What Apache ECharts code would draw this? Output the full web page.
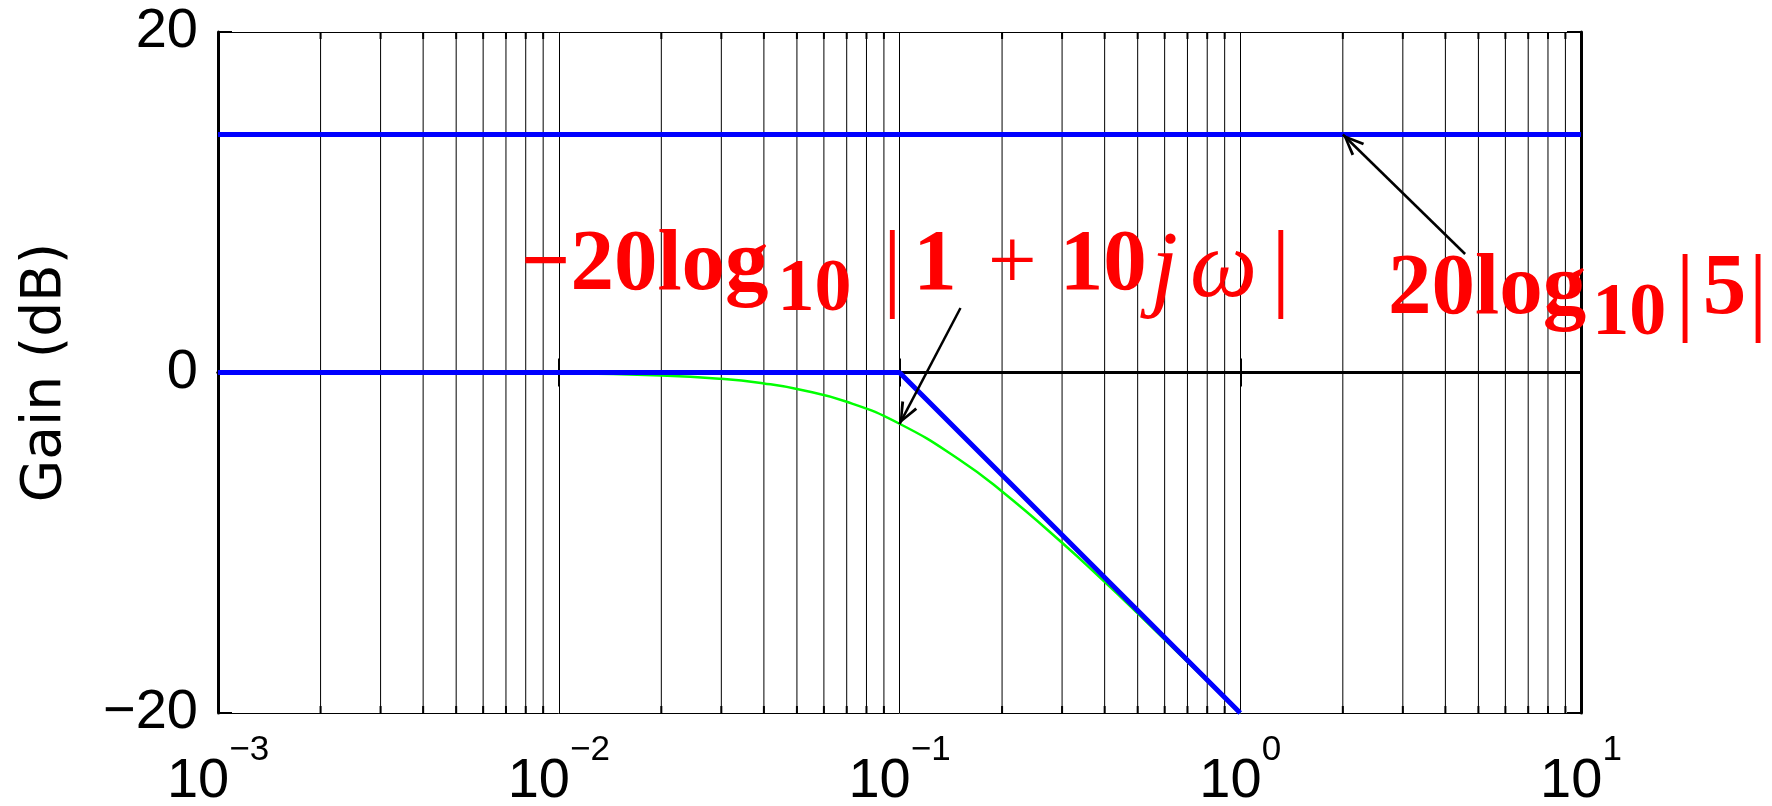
<!DOCTYPE html>
<html><head><meta charset="utf-8">
<script src="https://cdn.jsdelivr.net/npm/echarts@6/dist/echarts.min.js"></script>
<style>html,body{margin:0;padding:0;background:#fff}#c{width:1772px;height:806px}</style>
</head><body><div id="c"></div>
<script>
// ---- axes ----
const xMin = 0.001, xMax = 10;
const yMin = -20, yMax = 20, yStep = 20;
const decades = [0.001, 0.01, 0.1, 1];
const minorTicks = [];
decades.forEach(d => { for (let k = 2; k <= 9; k++) minorTicks.push(+(k * d).toPrecision(3)); });

// ---- series ----
const constW = [0.001, 10];
const constDb = [13.98, 13.98];            // 20log10|5|
const asymW = [0.001, 0.1, 1];
const asymDb = [0, 0, -20];                 // straight-line approximation
const exactW = [0.001, 0.003, 0.005, 0.01, 0.02, 0.03, 0.04, 0.05, 0.07, 0.1, 0.15, 0.2, 0.3, 0.4, 0.5, 0.7, 1];
const exactDb = [0, 0, -0.01, -0.04, -0.17, -0.37, -0.64, -0.97, -1.72, -3.01, -5.12, -6.99, -10.0, -12.3, -14.15, -17.0, -20.0];

// ---- annotations (data coordinates) ----
const ann1At = [0.00774, 5.84];
const ann2At = [2.714, 4.43];
const arrow1 = [[0.151, 3.79], [0.1, -3.03]];
const arrow2 = [[4.57, 6.96], [2.0, 13.98]];

const zip = (a, b) => a.map((v, i) => [v, b[i]]);
const serif = 'Liberation Serif';
const red = '#ff0000';
const tokBase = { fontFamily: serif, color: red, lineHeight: 100, verticalAlign: 'top' };
const mk = (o) => Object.assign({}, tokBase, o);
const arrowPath = 'path://M0,0L5,12L3.5,12.6L0,3.6L-3.5,12.6L-5,12Z';

const chart = echarts.init(document.getElementById('c'));
const subFmt = e => (e < 0 ? '\u2212' + (-e) : '' + e);
chart.setOption({
  animation: false,
  backgroundColor: '#fff',
  grid: { left: 218, right: 191, top: 32, bottom: 93, show: false, containLabel: false, outerBoundsMode: 'none' },
  xAxis: [{
    type: 'log', logBase: 10, min: xMin, max: xMax, position: 'bottom',
    axisLine: { show: true, lineStyle: { color: '#000', width: 3 } },
    axisTick: { show: true, inside: true, length: 14, lineStyle: { color: '#000', width: 2 } },
    splitLine: { show: true, lineStyle: { color: '#000', width: 1 } },
    axisLabel: {
      margin: 41, color: '#000',
      formatter: v => '{b|10}{s|' + subFmt(Math.round(Math.log10(v))) + '}',
      rich: {
        b: { fontFamily: 'Liberation Sans', fontSize: 56, lineHeight: 56, verticalAlign: 'bottom', color: '#000' },
        s: { fontFamily: 'Liberation Sans', fontSize: 35, lineHeight: 35, padding: [0, 0, 42, 0], verticalAlign: 'bottom', color: '#000' }
      }
    }
  }, {
    type: 'log', logBase: 10, min: xMin, max: xMax, position: 'top',
    axisLine: { show: true, lineStyle: { color: '#000', width: 3 } },
    axisTick: { show: true, inside: true, length: 14, lineStyle: { color: '#000', width: 2 } },
    splitLine: { show: false }, axisLabel: { show: false }
  }],
  yAxis: [{
    type: 'value', min: yMin, max: yMax, interval: yStep, position: 'left',
    name: 'Gain (dB)', nameLocation: 'middle', nameRotate: 90, nameGap: 145,
    nameTextStyle: { fontFamily: 'DejaVu Sans', fontSize: 55, color: '#000' },
    axisLine: { show: true, lineStyle: { color: '#000', width: 3 } },
    axisTick: { show: true, inside: true, length: 14, lineStyle: { color: '#000', width: 2 } },
    splitLine: { show: true, lineStyle: { color: '#000', width: 1 } },
    axisLabel: { margin: 20, color: '#000', fontFamily: 'Liberation Sans', fontSize: 56,
      formatter: v => (v < 0 ? '\u2212' + (-v) : '' + v) }
  }, {
    type: 'value', min: yMin, max: yMax, interval: yStep, position: 'right',
    axisLine: { show: true, lineStyle: { color: '#000', width: 3 } },
    axisTick: { show: true, inside: true, length: 14, lineStyle: { color: '#000', width: 2 } },
    splitLine: { show: false }, axisLabel: { show: false }
  }],
  series: [
    {
      type: 'custom', xAxisIndex: 0, yAxisIndex: 0, silent: true, clip: false, z: 1,
      data: minorTicks.map(v => [v, 0]), encode: { x: 0, y: 1 },
      renderItem: (params, api) => {
        const v = api.value(0);
        const b = api.coord([v, yMin]);
        const t = api.coord([v, yMax]);
        return { type: 'group', children: [
          { type: 'line', shape: { x1: b[0], y1: b[1], x2: t[0], y2: t[1] }, style: { stroke: '#000', lineWidth: 1 } },
          { type: 'line', shape: { x1: b[0], y1: b[1], x2: b[0], y2: b[1] - 7 }, style: { stroke: '#000', lineWidth: 2 } },
          { type: 'line', shape: { x1: t[0], y1: t[1], x2: t[0], y2: t[1] + 7 }, style: { stroke: '#000', lineWidth: 2 } }
        ] };
      }
    },
    {
      name: 'exact', type: 'line', xAxisIndex: 0, yAxisIndex: 0, z: 3, smooth: true,
      data: zip(exactW, exactDb), showSymbol: false, symbol: 'none',
      lineStyle: { color: '#00ff00', width: 2.5 }
    },
    {
      name: 'constant', type: 'line', xAxisIndex: 0, yAxisIndex: 0, z: 4,
      data: zip(constW, constDb), showSymbol: false, symbol: 'none',
      lineStyle: { color: '#0000ff', width: 5 },
      markLine: {
        silent: true, symbol: ['none', arrowPath], symbolSize: [18, 22], symbolOffset: [[0, 0], [0, 11]],
        label: { show: false }, lineStyle: { color: '#000', width: 2.5, type: 'solid' },
        data: [
          [{ coord: arrow1[0] }, { coord: arrow1[1] }],
          [{ coord: arrow2[0] }, { coord: arrow2[1] }]
        ]
      },
      markPoint: {
        silent: true, symbol: 'circle', symbolSize: 0,
        data: [
          { coord: ann1At, label: { show: true, position: 'right', distance: 0,
            formatter: '{a|\u221220log}{s|10}{b1||}{a1|1}{p|+}{a2|10}{j|j}{w|\u03c9}{b2||}',
            rich: {
              a: mk({ fontSize: 87, fontWeight: 'bold' }),
              s: mk({ fontSize: 74, fontWeight: 'bold', padding: [31, 0, 0, 9] }),
              b1: mk({ fontSize: 98, padding: [0, 0, 0, 31] }),
              a1: mk({ fontSize: 87, fontWeight: 'bold', padding: [0, 0, 0, 11] }),
              p: mk({ fontSize: 87, padding: [0, 0, 0, 31] }),
              a2: mk({ fontSize: 87, fontWeight: 'bold', padding: [0, 0, 0, 23] }),
              j: mk({ fontSize: 98, fontStyle: 'italic', padding: [0, 0, 0, 4] }),
              w: mk({ fontSize: 95, fontStyle: 'italic', padding: [0, 0, 0, 12] }),
              b2: mk({ fontSize: 98, padding: [0, 0, 0, 14] })
            } } },
          { coord: ann2At, label: { show: true, position: 'right', distance: 0,
            formatter: '{a|20log}{s|10}{b1||}{a1|5}{b2||}',
            rich: {
              a: mk({ fontSize: 87, fontWeight: 'bold' }),
              s: mk({ fontSize: 74, fontWeight: 'bold', padding: [31, 0, 0, 6] }),
              b1: mk({ fontSize: 98, padding: [0, 0, 0, 9] }),
              a1: mk({ fontSize: 87, fontWeight: 'bold', padding: [0, 0, 0, 8] }),
              b2: mk({ fontSize: 98, padding: [0, 0, 0, 2] })
            } } }
        ]
      }
    },
    {
      name: 'asymptote', type: 'line', xAxisIndex: 0, yAxisIndex: 0, z: 4,
      data: zip(asymW, asymDb), showSymbol: false, symbol: 'none',
      lineStyle: { color: '#0000ff', width: 5 }
    }
  ]
});
</script></body></html>
